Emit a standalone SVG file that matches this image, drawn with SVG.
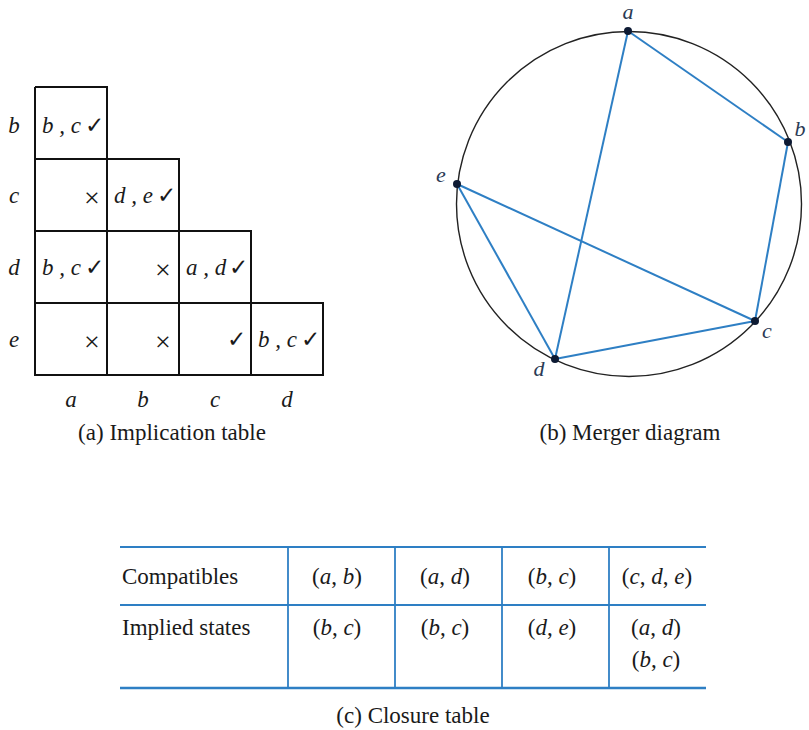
<svg xmlns="http://www.w3.org/2000/svg" width="809" height="730" viewBox="0 0 809 730">
<style>
  .t { font-family: "Liberation Serif", "Times New Roman", serif; font-size: 23px; fill: #1a1a1a; }
  .i { font-style: italic; }
  .ck { font-family: "DejaVu Sans", sans-serif; font-size: 23px; fill: #1a1a1a; }
  .x { font-family: "Liberation Serif", "Times New Roman", serif; font-size: 28px; fill: #1a1a1a; }
  .grid { fill: none; stroke: #111; stroke-width: 2; }
  .edge { stroke: #2e7fc4; stroke-width: 2; fill: none; }
  .bl { stroke: #2e7fc4; fill: none; }
  .dot { fill: #0d1a33; }
  .lbl { font-family: "Liberation Serif", "Times New Roman", serif; font-size: 22px; font-style: italic; fill: #2a3a55; }
</style>

<!-- (a) Implication table -->
<g id="implication-table">
  <path class="grid" d="M35 87 H107 V375 M35 87 V375 H323 V303 H35 M35 159 H179 V375 M35 231 H251 V375 M107 159 V231 M251 303 V375"/>
  <g id="row-labels">
    <text class="t i" x="14" y="133" text-anchor="middle">b</text>
    <text class="t i" x="14" y="203" text-anchor="middle">c</text>
    <text class="t i" x="14" y="275" text-anchor="middle">d</text>
    <text class="t i" x="14" y="347" text-anchor="middle">e</text>
  </g>
  <g id="col-labels">
    <text class="t i" x="71" y="407" text-anchor="middle">a</text>
    <text class="t i" x="143" y="407" text-anchor="middle">b</text>
    <text class="t i" x="215" y="407" text-anchor="middle">c</text>
    <text class="t i" x="287" y="407" text-anchor="middle">d</text>
  </g>
  <g id="cell-ba"><text class="t i" x="42" y="133">b , c</text><text class="ck" x="85" y="133">✓</text></g>
  <g id="cell-ca"><text class="x" x="92" y="207" text-anchor="middle">×</text></g>
  <g id="cell-cb"><text class="t i" x="114" y="203">d , e</text><text class="ck" x="157" y="203">✓</text></g>
  <g id="cell-da"><text class="t i" x="42" y="275">b , c</text><text class="ck" x="85" y="275">✓</text></g>
  <g id="cell-db"><text class="x" x="163" y="279" text-anchor="middle">×</text></g>
  <g id="cell-dc"><text class="t i" x="186" y="275">a , d</text><text class="ck" x="229" y="275">✓</text></g>
  <g id="cell-ea"><text class="x" x="92" y="351" text-anchor="middle">×</text></g>
  <g id="cell-eb"><text class="x" x="163" y="351" text-anchor="middle">×</text></g>
  <g id="cell-ec"><text class="ck" x="227" y="347">✓</text></g>
  <g id="cell-ed"><text class="t i" x="258" y="347">b , c</text><text class="ck" x="301" y="347">✓</text></g>
  <text class="t" x="172" y="440" text-anchor="middle">(a) Implication table</text>
</g>

<!-- (b) Merger diagram -->
<g id="merger-diagram">
  <circle cx="629" cy="204" r="172.5" fill="none" stroke="#222" stroke-width="1.4"/>
  <g id="connectors">
    <line class="edge" x1="628" y1="31" x2="788" y2="142"/>
    <line class="edge" x1="628" y1="31" x2="555" y2="359"/>
    <line class="edge" x1="788" y1="142" x2="755" y2="321"/>
    <line class="edge" x1="755" y1="321" x2="555" y2="359"/>
    <line class="edge" x1="457" y1="184" x2="555" y2="359"/>
    <line class="edge" x1="457" y1="184" x2="755" y2="321"/>
  </g>
  <g id="node-a"><circle class="dot" cx="628" cy="31" r="4"/><text class="lbl" x="628" y="19" text-anchor="middle">a</text></g>
  <g id="node-b"><circle class="dot" cx="788" cy="142" r="4"/><text class="lbl" x="800" y="136" text-anchor="middle">b</text></g>
  <g id="node-c"><circle class="dot" cx="755" cy="321" r="4"/><text class="lbl" x="767" y="338" text-anchor="middle">c</text></g>
  <g id="node-d"><circle class="dot" cx="555" cy="359" r="4"/><text class="lbl" x="539" y="376" text-anchor="middle">d</text></g>
  <g id="node-e"><circle class="dot" cx="457" cy="184" r="4"/><text class="lbl" x="441" y="182" text-anchor="middle">e</text></g>
  <text class="t" x="630" y="440" text-anchor="middle">(b) Merger diagram</text>
</g>

<!-- (c) Closure table -->
<g id="closure-table">
  <line class="bl" x1="120" y1="547" x2="706" y2="547" stroke-width="2"/>
  <line class="bl" x1="120" y1="605" x2="706" y2="605" stroke-width="2"/>
  <line class="bl" x1="120" y1="688" x2="706" y2="688" stroke-width="2.5"/>
  <line class="bl" x1="288" y1="547" x2="288" y2="688" stroke-width="1.8"/>
  <line class="bl" x1="395" y1="547" x2="395" y2="688" stroke-width="1.8"/>
  <line class="bl" x1="502" y1="547" x2="502" y2="688" stroke-width="1.8"/>
  <line class="bl" x1="609" y1="547" x2="609" y2="688" stroke-width="1.8"/>
  <text class="t" x="122" y="584">Compatibles</text>
  <text class="t" x="122" y="635">Implied states</text>
  <text class="t" x="337" y="584" text-anchor="middle">(<tspan class="i">a</tspan>, <tspan class="i">b</tspan>)</text>
  <text class="t" x="445" y="584" text-anchor="middle">(<tspan class="i">a</tspan>, <tspan class="i">d</tspan>)</text>
  <text class="t" x="552" y="584" text-anchor="middle">(<tspan class="i">b</tspan>, <tspan class="i">c</tspan>)</text>
  <text class="t" x="657" y="584" text-anchor="middle">(<tspan class="i">c</tspan>, <tspan class="i">d</tspan>, <tspan class="i">e</tspan>)</text>
  <text class="t" x="337" y="635" text-anchor="middle">(<tspan class="i">b</tspan>, <tspan class="i">c</tspan>)</text>
  <text class="t" x="445" y="635" text-anchor="middle">(<tspan class="i">b</tspan>, <tspan class="i">c</tspan>)</text>
  <text class="t" x="552" y="635" text-anchor="middle">(<tspan class="i">d</tspan>, <tspan class="i">e</tspan>)</text>
  <text class="t" x="656" y="635" text-anchor="middle">(<tspan class="i">a</tspan>, <tspan class="i">d</tspan>)</text>
  <text class="t" x="656" y="667" text-anchor="middle">(<tspan class="i">b</tspan>, <tspan class="i">c</tspan>)</text>
  <text class="t" x="413" y="723" text-anchor="middle">(c) Closure table</text>
</g>
</svg>
